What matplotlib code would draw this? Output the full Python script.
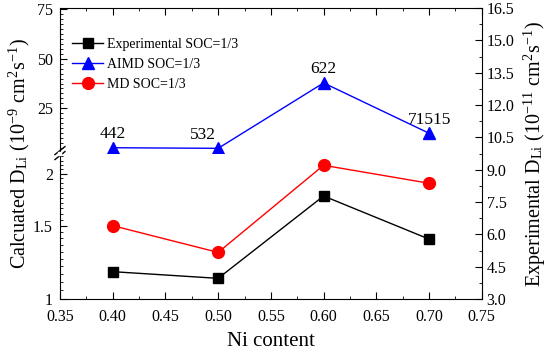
import numpy as np
import matplotlib
matplotlib.use("Agg")
import matplotlib.pyplot as plt
from matplotlib.ticker import MultipleLocator, FixedLocator, NullFormatter, FuncFormatter

plt.rcParams['font.family'] = ['Liberation Serif', 'DejaVu Serif']
plt.rcParams['mathtext.fontset'] = 'stix'

ni = [0.40, 0.50, 0.60, 0.70]
exp_soc = [4.27, 3.96, 7.78, 5.78]      # right axis, 1e-11 cm2/s
aimd_soc = [5.1, 4.8, 37.8, 12.4]       # left upper segment, 1e-9 cm2/s
md_soc = [1.50, 1.294, 2.094, 1.896]    # left lower segment, 1e-9 cm2/s
aimd_labels = ['442', '532', '622', '71515']

fig = plt.figure(figsize=(5.5, 3.56), dpi=100)
L, W = 0.109, 0.767
B, BRK, TOP = 0.160, 0.570, 0.9775

ax_low = fig.add_axes([L, B, W, BRK - B])
ax_up = fig.add_axes([L, BRK, W, TOP - BRK])
ax_r = fig.add_axes([L, B, W, TOP - B])
ax_r.patch.set_visible(False)

# lower segment (log)
ax_low.set_yscale('log')
ax_low.set_ylim(1, 2.24)
ax_low.yaxis.set_major_locator(FixedLocator([1, 1.5, 2]))
ax_low.yaxis.set_minor_locator(FixedLocator(np.arange(1.05, 2.24, 0.05)))
ax_low.yaxis.set_major_formatter(FuncFormatter(lambda v, p: '%g' % v))
ax_low.yaxis.set_minor_formatter(NullFormatter())
ax_low.plot(ni, md_soc, '-o', color='red', lw=1, ms=8.5, label='MD SOC=1/3')

# upper segment (linear)
ax_up.set_ylim(2.4, 75.6)
ax_up.yaxis.set_major_locator(FixedLocator([25, 50, 75]))
ax_up.yaxis.set_minor_locator(MultipleLocator(2.5))
ax_up.plot(ni, aimd_soc, '-^', color='blue', lw=1, ms=9, label='AIMD SOC=1/3')
for x, y, t in zip(ni, aimd_soc, aimd_labels):
    dx = -11 if t == '532' else 0
    ax_up.annotate(t, (x, y), xytext=(dx, 4), textcoords='offset points',
                   ha='center', va='bottom', fontsize=12.5)

for a in (ax_low, ax_up):
    a.set_xlim(0.35, 0.75)
    a.patch.set_visible(False)
    for s in ('top', 'right', 'bottom'):
        a.spines[s].set_visible(False)
    a.tick_params(axis='x', which='both', bottom=False, labelbottom=False)
    a.tick_params(axis='y', which='major', direction='in', length=5, labelsize=11.5, pad=5)
    a.tick_params(axis='y', which='minor', direction='in', length=2.5)

# right axis / frame
ax_r.plot(ni, exp_soc, '-s', color='black', lw=1, ms=7.5, label='Experimental SOC=1/3')
ax_r.set_xlim(0.35, 0.75)
ax_r.set_ylim(3.0, 16.5)
ax_r.spines['left'].set_visible(False)
ax_r.yaxis.tick_right()
ax_r.yaxis.set_label_position('right')
ax_r.yaxis.set_major_locator(MultipleLocator(1.5))
ax_r.yaxis.set_minor_locator(MultipleLocator(0.75))
ax_r.yaxis.set_major_formatter(FuncFormatter(lambda v, p: '%.1f' % v))
ax_r.xaxis.set_major_locator(MultipleLocator(0.05))
ax_r.xaxis.set_minor_locator(MultipleLocator(0.025))
ax_r.xaxis.set_major_formatter(FuncFormatter(lambda v, p: '%.2f' % v))
ax_r.tick_params(which='major', direction='in', length=5, labelsize=11.5, top=True)
ax_r.tick_params(axis='x', which='major', pad=7)
ax_r.tick_params(which='minor', direction='in', length=2.5, top=True)
ax_r.tick_params(axis='y', which='both', left=False)
ax_r.set_xlabel('Ni content', fontsize=15, labelpad=5)
ax_r.set_ylabel(r'Experimental D$_{\mathregular{Li}}$ (10$^{\mathregular{-11}}$ cm$^{\mathregular{2}}$s$^{\mathregular{-1}}$)',
                fontsize=14.5, labelpad=5)

fig.text(0.012, (B + TOP) / 2,
         r'Calcuated D$_{\mathregular{Li}}$ (10$^{\mathregular{-9}}$ cm$^{\mathregular{2}}$s$^{\mathregular{-1}}$)',
         rotation=90, ha='left', va='center', fontsize=14.5)

# break marks on left spine
fw, fh = fig.get_size_inches() * fig.dpi
for off in (-2.5, 2.5):
    x0, x1 = L - 5 / fw, L + 5 / fw
    y0, y1 = BRK + (off - 4) / fh, BRK + (off + 4) / fh
    fig.add_artist(plt.Line2D([x0, x1], [y0, y1], color='black', lw=1))
fig.add_artist(plt.Rectangle((L - 1.5 / fw, BRK - 1.5 / fh), 3 / fw, 3 / fh,
                             color='white', zorder=5))

handles = [ax_r.lines[0], ax_up.lines[0], ax_low.lines[0]]
ax_r.legend(handles, [h.get_label() for h in handles], loc='upper left',
            bbox_to_anchor=(0.0, 0.94), frameon=False, fontsize=10,
            handlelength=2.2, handletextpad=0.3, labelspacing=0.5)

fig.savefig('out.png', dpi=100)
